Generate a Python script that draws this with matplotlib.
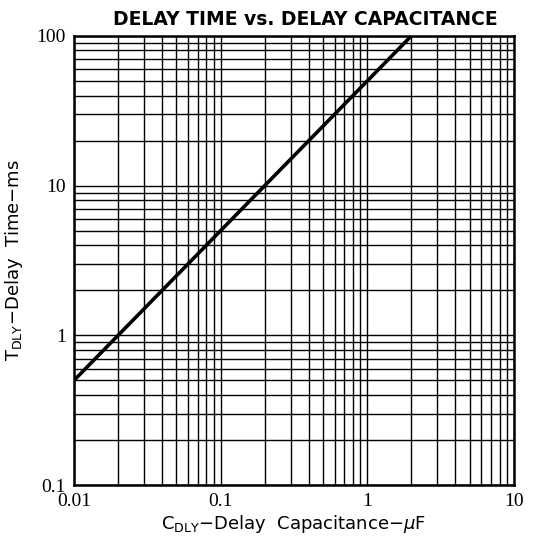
import matplotlib
matplotlib.use("Agg")
import matplotlib.pyplot as plt
from matplotlib.ticker import LogLocator, NullFormatter, FixedLocator, FixedFormatter

# valeurs
cap_uF = [0.01, 0.1, 1, 2]
delay_ms = [0.5, 5, 50, 100]

x_ticks = [0.01, 0.1, 1, 10]
x_labels = ["0.01", "0.1", "1", "10"]
y_ticks = [0.1, 1, 10, 100]
y_labels = ["0.1", "1", "10", "100"]

fig = plt.figure(figsize=(5.38, 5.41), dpi=100)
ax = fig.add_axes([0.1375, 0.1035, 0.8175, 0.83])

ax.set_xscale("log")
ax.set_yscale("log")
ax.set_xlim(0.01, 10)
ax.set_ylim(0.1, 100)

ax.plot(cap_uF, delay_ms, color="black", lw=2.6, solid_capstyle="butt", zorder=3)

ax.xaxis.set_major_locator(FixedLocator(x_ticks))
ax.xaxis.set_major_formatter(FixedFormatter(x_labels))
ax.yaxis.set_major_locator(FixedLocator(y_ticks))
ax.yaxis.set_major_formatter(FixedFormatter(y_labels))
ax.xaxis.set_minor_locator(LogLocator(base=10, subs=range(2, 10)))
ax.yaxis.set_minor_locator(LogLocator(base=10, subs=range(2, 10)))
ax.xaxis.set_minor_formatter(NullFormatter())
ax.yaxis.set_minor_formatter(NullFormatter())

ax.grid(True, which="both", color="black", lw=1.0)
ax.tick_params(which="both", length=0, pad=6)
for lab in ax.get_xticklabels() + ax.get_yticklabels():
    lab.set_fontfamily("Liberation Serif")
    lab.set_fontsize(14)

for s in ax.spines.values():
    s.set_linewidth(1.8)
    s.set_color("black")

ax.set_title("DELAY TIME vs. DELAY CAPACITANCE", fontsize=13.5, fontweight="bold",
             family="DejaVu Sans", pad=8, x=0.525)
ax.set_xlabel(r"C$_{\mathrm{DLY}}$$-$Delay  Capacitance$-\mu$F", fontsize=13, labelpad=2)
ax.set_ylabel(r"T$_{\mathrm{DLY}}$$-$Delay  Time$-$ms", fontsize=13, labelpad=8)

fig.savefig("out.png", dpi=100)
